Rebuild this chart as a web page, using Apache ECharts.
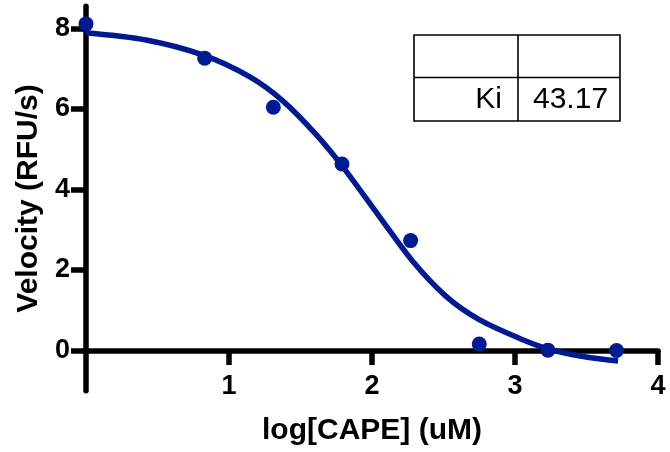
<!DOCTYPE html>
<html>
<head>
<meta charset="utf-8">
<script src="https://cdn.jsdelivr.net/npm/echarts@6/dist/echarts.min.js"></script>
<style>
  html, body { margin: 0; padding: 0; background: #ffffff; }
  #chart { width: 670px; height: 452px; }
</style>
</head>
<body>
<div id="chart"></div>
<script>
// Measured velocities at each log concentration of CAPE
const logConc = [0, 0.83, 1.31, 1.79, 2.27, 2.75, 3.23, 3.71];
const velocity = [8.11, 7.26, 6.04, 4.63, 2.73, 0.16, 0.01, 0.0];

// Fitted inhibition curve, sampled along its path
const fitX = [0, 0.42, 0.815, 1.143, 1.376, 1.61, 1.796, 2.053, 2.286, 2.52, 2.753, 3.033, 3.231, 3.476, 3.721];
const fitY = [7.89, 7.71, 7.34, 6.80, 6.20, 5.36, 4.56, 3.32, 2.21, 1.34, 0.76, 0.30, 0.04, -0.15, -0.26];

// Axis ticks
const xTicks = [1, 2, 3, 4];
const yTicks = [0, 2, 4, 6, 8];

// Results table
const tableLabels = ['Ki'];
const tableValues = ['43.17'];

const FONT = "'Liberation Sans', Arial, Helvetica, sans-serif";
const BLUE = '#001a93';

const chart = echarts.init(document.getElementById('chart'));

chart.setOption({
  animation: false,
  backgroundColor: '#ffffff',
  grid: { left: 86, right: 12, top: 6.2, bottom: 61.2, containLabel: false, outerBoundsMode: 'none' },
  xAxis: {
    type: 'value',
    min: 0,
    max: 4,
    interval: 1,
    name: 'log[CAPE] (uM)',
    nameLocation: 'middle',
    nameGap: 25,
    nameMoveOverlap: false,
    nameTextStyle: { fontFamily: FONT, fontWeight: 'bold', fontSize: 30, color: '#000' },
    axisLine: { onZero: true, lineStyle: { color: '#000', width: 5.5 } },
    axisTick: { show: true, inside: false, length: 14.5, customValues: xTicks, lineStyle: { color: '#000', width: 5.5 } },
    axisLabel: { customValues: xTicks, margin: -18, fontFamily: FONT, fontWeight: 'bold', fontSize: 27, color: '#000' },
    splitLine: { show: false }
  },
  yAxis: {
    type: 'value',
    min: -1,
    max: 8.55,
    name: 'Velocity (RFU/s)',
    nameLocation: 'middle',
    nameGap: 42,
    nameRotate: 90,
    nameMoveOverlap: false,
    nameTextStyle: { fontFamily: FONT, fontWeight: 'bold', fontSize: 30, color: '#000' },
    axisLine: { show: true, onZero: false, lineStyle: { color: '#000', width: 5.5 } },
    axisTick: { show: true, inside: false, length: 15, customValues: yTicks, lineStyle: { color: '#000', width: 5.5 } },
    axisLabel: { customValues: yTicks, margin: 16, fontFamily: FONT, fontWeight: 'bold', fontSize: 27, color: '#000' },
    splitLine: { show: false }
  },
  series: [
    {
      type: 'line',
      data: fitX.map((x, i) => [x, fitY[i]]),
      smooth: 0.3,
      showSymbol: false,
      symbol: 'none',
      lineStyle: { color: BLUE, width: 5.5 },
      z: 3
    },
    {
      type: 'scatter',
      data: logConc.map((x, i) => [x, velocity[i]]),
      symbol: 'circle',
      symbolSize: 15,
      itemStyle: { color: BLUE, opacity: 1 },
      z: 4
    }
  ],
  graphic: [
    {
      type: 'group',
      left: 411.5,
      top: 32.5,
      children: [
        { type: 'rect', shape: { x: 0, y: 0, width: 206, height: 86 }, style: { fill: '#fff', stroke: '#000', lineWidth: 1.6 } },
        { type: 'line', shape: { x1: 0, y1: 42.5, x2: 206, y2: 42.5 }, style: { stroke: '#000', lineWidth: 1.6 } },
        { type: 'line', shape: { x1: 104, y1: 0, x2: 104, y2: 86 }, style: { stroke: '#000', lineWidth: 1.6 } },
        { type: 'text', x: 88, y: 64.5, style: { text: tableLabels[0], font: '30px ' + FONT, fill: '#000', textAlign: 'right', textVerticalAlign: 'middle' } },
        { type: 'text', x: 119, y: 64.5, style: { text: tableValues[0], font: '30px ' + FONT, fill: '#000', textAlign: 'left', textVerticalAlign: 'middle' } }
      ]
    }
  ]
});
</script>
</body>
</html>
